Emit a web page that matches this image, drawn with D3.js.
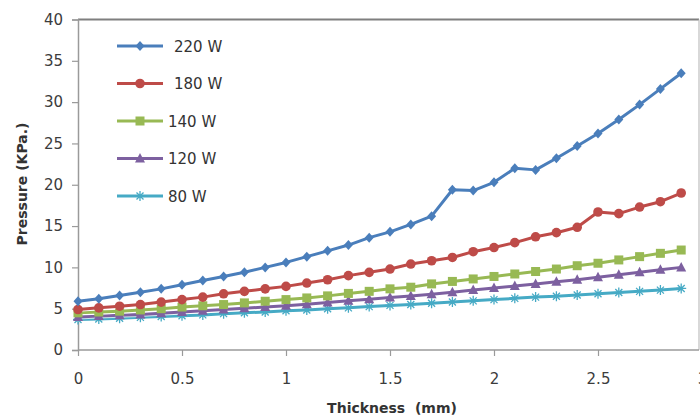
<!DOCTYPE html>
<html>
<head>
<meta charset="utf-8">
<script src="https://cdn.jsdelivr.net/npm/d3@7/dist/d3.min.js"></script>
<style>
html,body{margin:0;padding:0;background:#fff;}
svg{display:block;}
</style>
</head>
<body>
<svg id="chart" width="700" height="419"></svg>
<script>
const thickness = [0,0.1,0.2,0.3,0.4,0.5,0.6,0.7,0.8,0.9,1.0,1.1,1.2,1.3,1.4,1.5,1.6,1.7,1.8,1.9,2.0,2.1,2.2,2.3,2.4,2.5,2.6,2.7,2.8,2.9];
const p220 = [5.9,6.2,6.6,7.0,7.4,7.9,8.4,8.9,9.4,10.0,10.6,11.3,12.0,12.7,13.6,14.3,15.2,16.2,19.4,19.3,20.3,22.0,21.8,23.2,24.7,26.2,27.9,29.7,31.6,33.5];
const p180 = [4.9,5.1,5.3,5.5,5.8,6.1,6.4,6.8,7.1,7.4,7.7,8.1,8.5,9.0,9.4,9.8,10.4,10.8,11.2,11.9,12.4,13.0,13.7,14.2,14.85,16.7,16.5,17.3,17.95,19.0];
const p140 = [4.5,4.6,4.7,4.85,5.0,5.2,5.35,5.5,5.7,5.9,6.1,6.3,6.55,6.85,7.1,7.4,7.6,8.0,8.3,8.6,8.9,9.2,9.5,9.8,10.2,10.5,10.9,11.3,11.7,12.1];
const p120 = [4.0,4.1,4.2,4.3,4.45,4.6,4.75,4.9,5.05,5.2,5.35,5.55,5.75,5.95,6.15,6.35,6.55,6.75,7.0,7.25,7.5,7.75,8.0,8.25,8.5,8.8,9.1,9.4,9.7,10.0];
const p80  = [3.7,3.75,3.85,3.95,4.05,4.15,4.25,4.4,4.5,4.6,4.75,4.85,5.0,5.1,5.25,5.4,5.5,5.65,5.8,5.95,6.1,6.25,6.4,6.5,6.65,6.8,6.95,7.1,7.25,7.45];
const seriesNames = ["220 W","180 W","140 W","120 W","80 W"];
const xTicks = [0,0.5,1,1.5,2,2.5,3];
const yTicks = [0,5,10,15,20,25,30,35,40];

const seriesData = [p220,p180,p140,p120,p80];
const colors = ["#4A7EBB","#BE4B48","#98B954","#7D60A0","#46AAC5"];
const shapes = ["diamond","circle","square","triangle","asterisk"];

const svg = d3.select("#chart");
const mLeft = 78, mRight = 702, mTop = 19.5, mBottom = 350;
const x = d3.scaleLinear().domain([0,3]).range([mLeft,mRight]);
const y = d3.scaleLinear().domain([0,40]).range([mBottom,mTop]);

// frame
svg.append("line").attr("x1",mLeft).attr("x2",699).attr("y1",mTop).attr("y2",mTop)
  .attr("stroke","#7f7f7f").attr("stroke-width",2);
svg.append("line").attr("x1",699).attr("x2",699).attr("y1",mTop).attr("y2",mBottom)
  .attr("stroke","#bfbfbf").attr("stroke-width",1.2);

const tickFont = "DejaVu Sans, sans-serif";
// y axis
const yAxis = svg.append("g").attr("transform",`translate(${mLeft},0)`)
  .call(d3.axisLeft(y).tickValues(yTicks).tickSize(6).tickPadding(9).tickFormat(d3.format("d")));
yAxis.select(".domain").attr("stroke","#9a9a9a").attr("stroke-width",1.5);
yAxis.selectAll(".tick line").attr("stroke","#9a9a9a").attr("stroke-width",1.2);
yAxis.selectAll("text").attr("fill","#3c3c3c").style("font-family",tickFont).style("font-size","15px");

// x axis
const xAxis = svg.append("g").attr("transform",`translate(0,${mBottom})`)
  .call(d3.axisBottom(x).tickValues(xTicks).tickSize(6).tickPadding(17).tickFormat(d => d));
xAxis.select(".domain").remove();
svg.append("line").attr("x1",mLeft).attr("x2",699).attr("y1",mBottom).attr("y2",mBottom)
  .attr("stroke","#9a9a9a").attr("stroke-width",1.5);
xAxis.selectAll(".tick line").attr("stroke","#9a9a9a").attr("stroke-width",1.2);
xAxis.selectAll("text").attr("fill","#3c3c3c").style("font-family",tickFont).style("font-size","15px");

// axis titles
svg.append("text").attr("x",392).attr("y",413).attr("text-anchor","middle")
  .style("font-family",tickFont).style("font-weight","bold").style("font-size","14px")
  .style("white-space","pre").attr("fill","#333")
  .text("Thickness  (mm)");
svg.append("text").attr("transform","translate(27,184) rotate(-90)").attr("text-anchor","middle")
  .style("font-family",tickFont).style("font-weight","bold").style("font-size","14px").attr("fill","#333")
  .text("Pressure (KPa.)");

function drawMarker(g, shape, cx, cy, color){
  if(shape==="diamond"){
    g.append("path").attr("d",`M${cx},${cy-5}L${cx+4.5},${cy}L${cx},${cy+5}L${cx-4.5},${cy}Z`).attr("fill",color);
  } else if(shape==="circle"){
    g.append("circle").attr("cx",cx).attr("cy",cy).attr("r",4.8).attr("fill",color);
  } else if(shape==="square"){
    g.append("rect").attr("x",cx-4.5).attr("y",cy-4.5).attr("width",9).attr("height",9).attr("fill",color);
  } else if(shape==="triangle"){
    g.append("path").attr("d",`M${cx},${cy-5.5}L${cx+5},${cy+4}L${cx-5},${cy+4}Z`).attr("fill",color);
  } else {
    const r=5;
    const p = `M${cx-r},${cy}L${cx+r},${cy}M${cx},${cy-r}L${cx},${cy+r}M${cx-r*0.7},${cy-r*0.7}L${cx+r*0.7},${cy+r*0.7}M${cx-r*0.7},${cy+r*0.7}L${cx+r*0.7},${cy-r*0.7}`;
    g.append("path").attr("d",p).attr("stroke",color).attr("stroke-width",1.3).attr("fill","none");
  }
}

const line = d3.line().x((d,i)=>x(thickness[i])).y(d=>y(d));
for(let s=seriesData.length-1; s>=0; s--){
  const g = svg.append("g");
  g.append("path").datum(seriesData[s]).attr("d",line)
    .attr("fill","none").attr("stroke","#fff").attr("stroke-opacity",0.7).attr("stroke-width",5);
  g.append("path").datum(seriesData[s]).attr("d",line)
    .attr("fill","none").attr("stroke",colors[s]).attr("stroke-width",3).attr("stroke-linejoin","round");
  seriesData[s].forEach((v,i)=>drawMarker(g, shapes[s], x(thickness[i]), y(v), colors[s]));
}

// legend
const legY = [46, 83.5, 121, 158.5, 196];
const legTextX = [174, 174, 168, 168, 168];
seriesNames.forEach((name,i)=>{
  const g = svg.append("g");
  g.append("line").attr("x1",117).attr("x2",163).attr("y1",legY[i]).attr("y2",legY[i])
    .attr("stroke",colors[i]).attr("stroke-width",3);
  drawMarker(g, shapes[i], 140, legY[i], colors[i]);
  g.append("text").attr("x",legTextX[i]).attr("y",legY[i]+5.5)
    .style("font-family",tickFont).style("font-size","15px").attr("fill","#333").text(name);
});
</script>
</body>
</html>
